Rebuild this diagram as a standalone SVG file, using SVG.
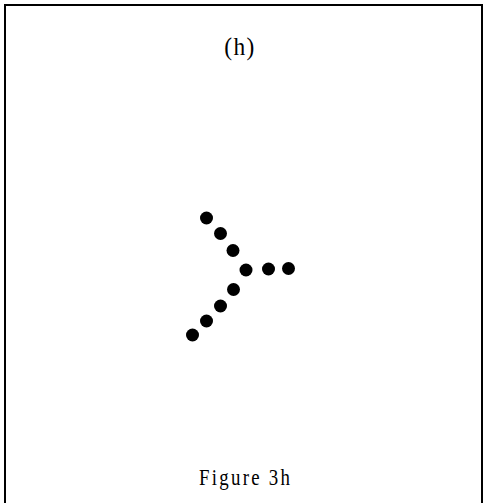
<svg xmlns="http://www.w3.org/2000/svg" width="484" height="503" viewBox="0 0 484 503">
<style>
.dot{fill:#000}
.t{font-family:"Liberation Serif","Times New Roman",serif;fill:#000;text-anchor:middle}
</style>
<rect width="484" height="503" fill="#fff"/>
<rect x="5" y="5" width="477" height="510" fill="none" stroke="#000" stroke-width="2"/>
<text class="t" transform="translate(240,55) scale(0.9,1)" x="0" y="0" font-size="26" letter-spacing="1.5">(h)</text>
<g id="dots">
<circle class="dot" cx="206.5" cy="218" r="6.5"/>
<circle class="dot" cx="220.5" cy="233.5" r="6.5"/>
<circle class="dot" cx="233" cy="250.5" r="6.5"/>
<circle class="dot" cx="246" cy="270" r="6.5"/>
<circle class="dot" cx="268.5" cy="269" r="6.5"/>
<circle class="dot" cx="288.5" cy="268.5" r="6.5"/>
<circle class="dot" cx="233.5" cy="289.5" r="6.5"/>
<circle class="dot" cx="220.5" cy="306" r="6.5"/>
<circle class="dot" cx="206.5" cy="321" r="6.5"/>
<circle class="dot" cx="192.5" cy="335" r="6.5"/>
</g>
<text class="t" transform="translate(244.5,485) scale(0.82,1)" x="0" y="0" font-size="23" textLength="111" lengthAdjust="spacing">Figure 3h</text>
</svg>
